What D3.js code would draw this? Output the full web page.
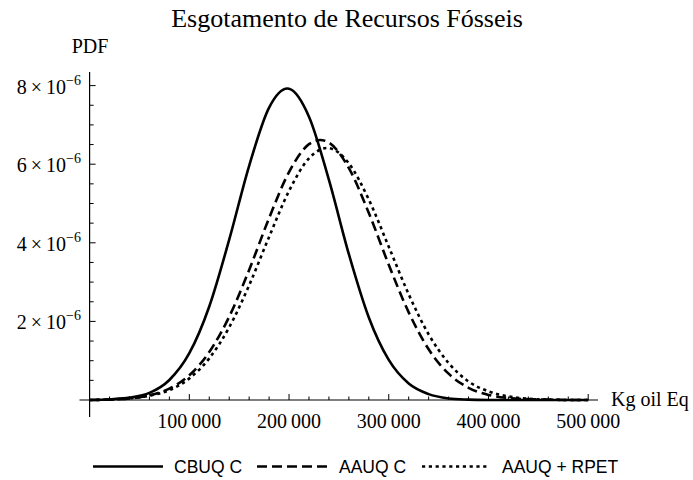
<!DOCTYPE html>
<html>
<head>
<meta charset="utf-8">
<script src="https://cdn.jsdelivr.net/npm/d3@7"></script>
<style>
  html, body { margin: 0; padding: 0; background: #fff; }
  svg { display: block; }
</style>
</head>
<body>
<svg id="chart" width="693" height="480"></svg>
<script>
// ---- data (PDF values in units of 1e-6) ----
const kgOilEq = [0, 20000, 40000, 60000, 80000, 100000, 120000, 140000, 160000, 180000,
  200000, 220000, 240000, 260000, 280000, 300000, 320000, 340000, 360000, 380000,
  400000, 420000, 440000, 460000, 480000, 500000];
const cbuqC = [0.00, 0.02, 0.06, 0.18, 0.51, 1.19, 2.38, 4.08, 5.96, 7.44,
  7.92, 7.21, 5.60, 3.71, 2.10, 1.02, 0.42, 0.15, 0.04, 0.01,
  0.00, 0.00, 0.00, 0.00, 0.00, 0.00];
const aauqC = [0.00, 0.01, 0.04, 0.12, 0.29, 0.63, 1.22, 2.12, 3.31, 4.63,
  5.80, 6.51, 6.55, 5.90, 4.76, 3.44, 2.23, 1.29, 0.67, 0.31,
  0.13, 0.05, 0.02, 0.01, 0.00, 0.00];
const aauqRpet = [0.00, 0.01, 0.04, 0.11, 0.25, 0.55, 1.06, 1.85, 2.92, 4.15,
  5.32, 6.15, 6.41, 6.02, 5.10, 3.90, 2.69, 1.67, 0.94, 0.47,
  0.22, 0.09, 0.03, 0.01, 0.00, 0.00];
const yUnit = 1e-6;
const seriesNames = ["CBUQ C", "AAUQ C", "AAUQ + RPET"];
const xTickValues = [100000, 200000, 300000, 400000, 500000];
const xTickLabels = ["100\u2009000", "200\u2009000", "300\u2009000", "400\u2009000", "500\u2009000"];
const yTickValues = [2e-6, 4e-6, 6e-6, 8e-6];
const yTickMantissas = ["2", "4", "6", "8"];
const yTickExponent = "\u22126";

// ---- layout ----
const svg = d3.select("#chart");
const serif = "'Liberation Serif', 'Times New Roman', serif";
const sans = "'Liberation Sans', Arial, sans-serif";

const x = d3.scaleLinear().domain([0, 500000]).range([89.6, 588.2]);
const y = d3.scaleLinear().domain([0, 8e-6]).range([400, 85.6]);

const styles = [
  { dash: null },
  { dash: "10,5" },
  { dash: "3.2,3.6" }
];
const seriesData = [cbuqC, aauqC, aauqRpet];

// title
svg.append("text")
  .attr("x", 347).attr("y", 27)
  .attr("text-anchor", "middle")
  .attr("font-family", serif).attr("font-size", 26)
  .text("Esgotamento de Recursos F\u00f3sseis");

// axes lines
const axisG = svg.append("g").attr("stroke", "#000").attr("stroke-width", 1.2);
axisG.append("line").attr("x1", 79.5).attr("x2", 598).attr("y1", y(0)).attr("y2", y(0));
axisG.append("line").attr("x1", x(0)).attr("x2", x(0)).attr("y1", 72).attr("y2", 417);

// x ticks (minor every 20000)
const xMinor = d3.range(20000, 500001, 20000);
svg.append("g").selectAll("line").data(xMinor).join("line")
  .attr("x1", d => x(d)).attr("x2", d => x(d))
  .attr("y1", y(0)).attr("y2", d => y(0) - (xTickValues.includes(d) ? 6 : 3.5))
  .attr("stroke", "#000").attr("stroke-width", 1);
svg.append("g").selectAll("text").data(xTickValues).join("text")
  .attr("x", d => x(d)).attr("y", 428)
  .attr("text-anchor", "middle")
  .attr("font-family", serif).attr("font-size", 20)
  .text((d, i) => xTickLabels[i]);

// y ticks (minor every 0.5e-6)
const yMinor = d3.range(1, 17).map(k => k * 0.5e-6);
svg.append("g").selectAll("line").data(yMinor).join("line")
  .attr("x1", x(0)).attr("x2", (d, i) => x(0) + ((i % 4 === 3) ? 6 : 4))
  .attr("y1", d => y(d)).attr("y2", d => y(d))
  .attr("stroke", "#000").attr("stroke-width", 1);
const yLab = svg.append("g").selectAll("text").data(yTickValues).join("text")
  .attr("x", 81).attr("y", d => y(d) + 8)
  .attr("text-anchor", "end")
  .attr("font-family", serif).attr("font-size", 20);
yLab.append("tspan").text((d, i) => yTickMantissas[i] + "\u2009\u00d7\u200910");
yLab.append("tspan").attr("font-size", 14).attr("dy", -9).text(yTickExponent);

// axis labels
svg.append("text").attr("x", 90).attr("y", 53).attr("text-anchor", "middle")
  .attr("font-family", serif).attr("font-size", 20).text("PDF");
svg.append("text").attr("x", 611).attr("y", 406)
  .attr("font-family", serif).attr("font-size", 20).text("Kg oil Eq");

// curves
const line = d3.line()
  .x((d, i) => x(kgOilEq[i]))
  .y(d => y(d * yUnit))
  .curve(d3.curveCatmullRom.alpha(0));
svg.append("g").selectAll("path").data(seriesData).join("path")
  .attr("d", d => line(d))
  .attr("fill", "none")
  .attr("stroke", "#000")
  .attr("stroke-width", 2.6)
  .attr("stroke-dasharray", (d, i) => styles[i].dash);

// legend
const legendItems = [
  { x1: 93, x2: 163, tx: 174 },
  { x1: 257, x2: 327, tx: 339 },
  { x1: 422, x2: 487, tx: 502 }
];
const lg = svg.append("g");
lg.selectAll("line").data(legendItems).join("line")
  .attr("x1", d => d.x1).attr("x2", d => d.x2)
  .attr("y1", 466.5).attr("y2", 466.5)
  .attr("stroke", "#000").attr("stroke-width", 2.6)
  .attr("stroke-dasharray", (d, i) => styles[i].dash);
lg.selectAll("text").data(legendItems).join("text")
  .attr("x", d => d.tx).attr("y", 473)
  .attr("font-family", sans).attr("font-size", 17.5)
  .text((d, i) => seriesNames[i]);
</script>
</body>
</html>
